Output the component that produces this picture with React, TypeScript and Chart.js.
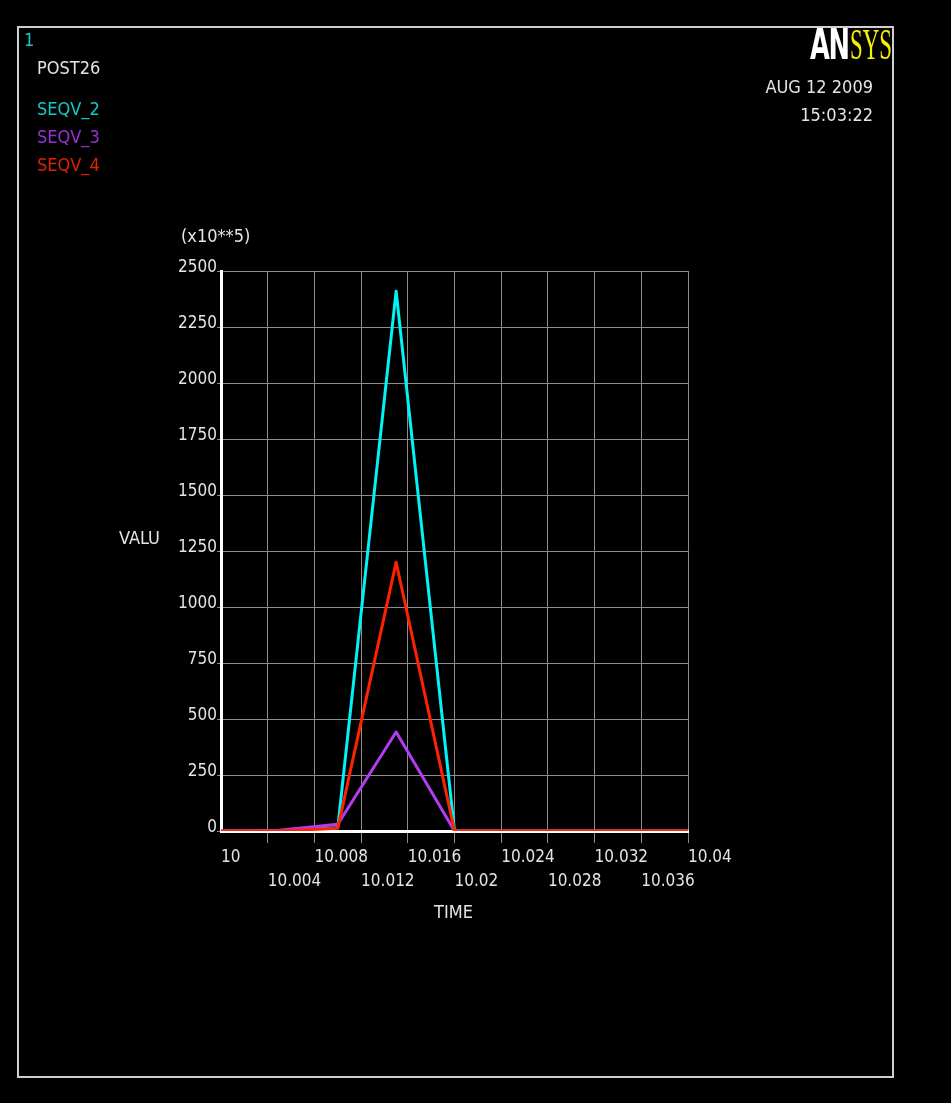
import React, { useEffect, useRef } from 'react';
import { Chart, registerables } from 'chart.js';

Chart.register(...registerables);

// ---- data ----
const TIME = [10, 10.005, 10.01, 10.015, 10.02, 10.025, 10.03, 10.035, 10.04];
const SEQV_2 = [0, 0, 15, 2410, 0, 0, 0, 0, 0];
const SEQV_3 = [0, 3, 30, 442, 0, 0, 0, 0, 0];
const SEQV_4 = [0, 0, 12, 1200, 0, 0, 0, 0, 0];

const X_TICKS = [10, 10.004, 10.008, 10.012, 10.016, 10.02, 10.024, 10.028, 10.032, 10.036, 10.04];
const X_TICK_LABELS = ['10', '10.004', '10.008', '10.012', '10.016', '10.02', '10.024', '10.028', '10.032', '10.036', '10.04'];
const Y_TICKS = [0, 250, 500, 750, 1000, 1250, 1500, 1750, 2000, 2250, 2500];
const Y_TICK_LABELS = ['0', '250', '500', '750', '1000', '1250', '1500', '1750', '2000', '2250', '2500'];

const FONT = "'Liberation Sans Narrow', 'DejaVu Sans Condensed', 'Liberation Sans', sans-serif";
const GRID = '#8c8c8c';
const TEXT = '#e4e4e4';

function Label(props: { x: number; y: number; text: string; color: string; align?: 'left' | 'right'; size?: number }) {
  const { x, y, text, color, align = 'left', size = 18 } = props;
  const style: React.CSSProperties = {
    position: 'absolute',
    top: y - 11,
    lineHeight: '22px',
    height: 22,
    fontFamily: FONT,
    fontSize: size,
    color,
    whiteSpace: 'nowrap',
  };
  if (align === 'left') style.left = x;
  else style.right = 951 - x;
  return <div style={style}>{text}</div>;
}

export default function App() {
  const canvasRef = useRef<HTMLCanvasElement | null>(null);

  useEffect(() => {
    const canvas = canvasRef.current;
    if (!canvas) return;
    const toPts = (ys: number[]) => TIME.map((t, i) => ({ x: t, y: ys[i] }));
    const common = { borderWidth: 3, pointRadius: 0, tension: 0, borderJoinStyle: 'round' as const };
    const chart = new Chart(canvas, {
      type: 'line',
      data: {
        datasets: [
          { label: 'SEQV_2', data: toPts(SEQV_2), borderColor: '#00f4f4', order: 3, ...common },
          { label: 'SEQV_3', data: toPts(SEQV_3), borderColor: '#b43cf0', order: 2, ...common },
          { label: 'SEQV_4', data: toPts(SEQV_4), borderColor: '#ff2200', order: 1, ...common },
        ],
      },
      options: {
        responsive: false,
        animation: false,
        layout: { padding: { left: 161, top: 271, right: 263, bottom: 192 } },
        plugins: { legend: { display: false }, tooltip: { enabled: false } },
        scales: {
          x: {
            type: 'linear',
            min: 10,
            max: 10.04,
            afterBuildTicks: (s: any) => {
              s.ticks = X_TICKS.map((v) => ({ value: v }));
            },
            afterFit: (s: any) => {
              s.height = 80;
            },
            grid: {
              color: (ctx: any) => (ctx.tick && ctx.tick.value === 10 ? 'rgba(0,0,0,0)' : GRID),
              lineWidth: 1,
              tickLength: 12,
            },
            border: { color: '#ffffff', width: 3 },
            ticks: {
              align: 'start',
              color: TEXT,
              padding: 3,
              maxRotation: 0,
              minRotation: 0,
              autoSkip: false,
              font: { family: FONT, size: 17, lineHeight: 24 / 17 },
              callback: (_v: any, i: number) => (i % 2 === 0 ? [X_TICK_LABELS[i], ''] : ['', X_TICK_LABELS[i]]),
            },
          },
          y: {
            min: 0,
            max: 2500,
            afterBuildTicks: (s: any) => {
              s.ticks = Y_TICKS.map((v) => ({ value: v }));
            },
            afterFit: (s: any) => {
              s.width = 60;
            },
            grid: { color: GRID, lineWidth: 1, tickLength: 4 },
            border: { color: '#ffffff', width: 3 },
            ticks: {
              color: TEXT,
              padding: 0,
              labelOffset: -3,
              autoSkip: false,
              font: { family: FONT, size: 17 },
              callback: (_v: any, i: number) => Y_TICK_LABELS[i],
            },
          },
        },
      } as any,
    });
    return () => chart.destroy();
  }, []);

  return (
    <div style={{ position: 'fixed', left: 0, top: 0, width: 951, height: 1103, background: '#000', overflow: 'hidden' }}>
      <canvas ref={canvasRef} width={951} height={1103} style={{ position: 'absolute', left: 0, top: 0, width: 951, height: 1103 }} />
      <div
        style={{
          position: 'absolute',
          left: 17,
          top: 26,
          width: 877,
          height: 1052,
          boxSizing: 'border-box',
          border: '2px solid #cfcfcf',
          pointerEvents: 'none',
        }}
      />
      <Label x={24} y={40} text="1" color="#14c8c8" />
      <Label x={37} y={68} text="POST26" color={TEXT} />
      <Label x={37} y={109} text="SEQV_2" color="#14c8c8" />
      <Label x={37} y={137} text="SEQV_3" color="#9a32d2" />
      <Label x={37} y={165} text="SEQV_4" color="#e02200" />
      <div style={{ position: 'absolute', left: 810, top: 25, height: 40, whiteSpace: 'nowrap', lineHeight: '40px' }}>
        <span
          style={{
            display: 'inline-block',
            fontFamily: FONT,
            fontWeight: 'bold',
            fontSize: 42,
            color: '#ffffff',
            transform: 'scaleX(0.68)',
            transformOrigin: 'left center',
            width: 40,
            letterSpacing: -2,
          }}
        >
          AN
        </span>
        <span
          style={{
            display: 'inline-block',
            fontFamily: "'Liberation Serif', serif",
            fontSize: 44,
            color: '#f5f000',
            transform: 'scaleX(0.52)',
            transformOrigin: 'left center',
            width: 42,
          }}
        >
          SYS
        </span>
      </div>
      <Label x={873} y={87} text="AUG 12 2009" color={TEXT} align="right" />
      <Label x={873} y={115} text="15:03:22" color={TEXT} align="right" />
      <Label x={181} y={236} text="(x10**5)" color={TEXT} />
      <Label x={119} y={538} text="VALU" color={TEXT} />
      <Label x={434} y={912} text="TIME" color={TEXT} />
    </div>
  );
}
